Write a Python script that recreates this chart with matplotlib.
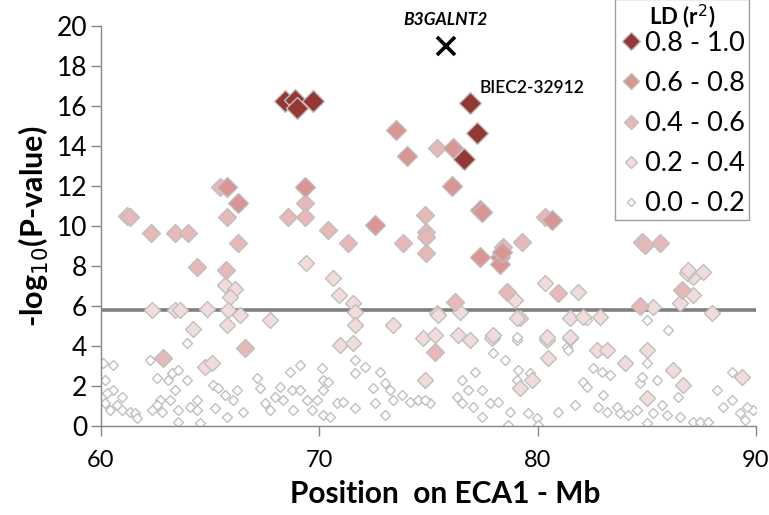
import matplotlib
matplotlib.use("Agg")
import matplotlib.pyplot as plt
from matplotlib.lines import Line2D

plt.rcParams['font.family'] = ['Lato', 'DejaVu Sans']

# Position on ECA1 (Mb) and -log10(P) for each LD (r2) class
pos_r08 = [68.43, 68.9, 69.71, 69.0, 76.9, 77.22, 76.63]
logp_r08 = [16.25, 16.3, 16.25, 15.9, 16.15, 14.65, 13.35]

pos_r06 = [65.77, 66.28, 69.34, 73.51, 74.0, 76.12, 76.08, 72.55, 77.36, 77.45,
           80.66, 77.36, 78.28, 78.28, 78.37]
logp_r06 = [11.95, 11.15, 11.95, 14.8, 13.5, 13.9, 12.0, 10.05, 10.8, 10.7,
            10.3, 8.45, 8.45, 8.1, 8.7]

pos_r04 = [61.19, 61.33, 62.29, 63.39, 63.98, 64.4, 65.73, 65.77, 66.28, 65.45,
           69.35, 69.35, 68.57, 70.4, 71.31, 73.83, 74.84, 74.89, 74.89, 74.89,
           75.39, 78.4, 79.29, 80.34, 84.78, 84.92, 85.61, 76.22, 78.6, 80.93,
           86.61, 84.69, 62.84, 66.6, 75.3]
logp_r04 = [10.5, 10.45, 9.65, 9.65, 9.65, 7.95, 7.8, 10.45, 9.15, 11.95,
            11.15, 10.45, 10.45, 9.8, 9.15, 9.15, 10.55, 9.7, 9.45, 8.65,
            13.9, 8.95, 9.2, 10.45, 9.2, 9.05, 9.15, 6.2, 6.7, 6.65,
            6.8, 6.0, 3.4, 3.9, 3.7]

pos_r02 = [69.39, 70.63, 70.9, 71.54, 71.64, 71.64, 76.45, 78.97, 80.34, 75.39,
           73.38, 79.2, 65.68, 66.14, 65.9, 62.34, 63.39, 63.62, 64.86, 65.82,
           66.37, 65.77, 64.2, 67.74, 64.76, 65.08, 70.95, 71.54, 74.75, 74.84,
           75.44, 79.06, 81.48, 82.08, 82.86, 85.29, 86.52, 87.99, 75.3, 76.35,
           76.9, 77.91, 80.43, 80.48, 81.48, 82.72, 83.18, 84.0, 85.01, 86.2,
           86.66, 89.36, 79.74, 79.19, 85.01, 81.85, 87.12, 87.12, 86.84, 87.58,
           86.89, 77.96, 81.48, 80.43]
logp_r02 = [8.15, 7.4, 6.55, 6.15, 5.7, 5.05, 5.7, 6.3, 7.15, 5.65,
            5.05, 5.4, 7.05, 6.85, 6.45, 5.8, 5.8, 5.8, 5.85, 5.8,
            5.55, 5.05, 4.85, 5.3, 2.95, 3.15, 4.05, 4.15, 4.4, 2.3,
            5.55, 5.4, 5.4, 5.45, 5.45, 5.95, 6.15, 5.65, 4.55, 4.55,
            4.3, 4.4, 4.3, 3.4, 4.4, 3.8, 3.8, 3.15, 3.8, 2.8,
            2.05, 2.45, 2.3, 1.9, 1.4, 6.7, 6.55, 7.45, 7.65, 7.7,
            7.8, 4.55, 4.45, 4.45]

pos_r00 = [60.09, 60.55, 60.18, 60.55, 60.27, 60.96, 60.18, 60.73, 60.41, 60.96,
           61.33, 61.56, 61.65, 62.24, 62.57, 63.07, 63.25, 63.53, 63.94, 63.39,
           62.7, 62.57, 63.16, 62.34, 62.8, 63.53, 63.53, 64.08, 64.4, 64.4,
           64.54, 63.94, 65.22, 65.13, 65.36, 65.68, 66.23, 66.05, 65.77, 66.51,
           67.15, 67.28, 67.51, 67.74, 67.97, 68.2, 68.34, 68.66, 69.12, 68.75,
           69.12, 68.8, 69.44, 69.67, 69.9, 70.12, 70.17, 70.17, 70.4, 70.17,
           70.49, 70.81, 71.08, 71.64, 71.64, 71.64, 72.09, 72.46, 72.55, 72.78,
           73.01, 73.01, 73.24, 73.38, 73.79, 74.15, 74.52, 75.07, 74.84, 76.54,
           76.81, 77.13, 76.31, 76.54, 77.04, 77.45, 77.45, 77.82, 78.19, 77.96,
           78.51, 79.06, 79.1, 79.65, 79.06, 78.74, 79.56, 79.97, 78.65, 80.02,
           80.93, 81.35, 81.71, 82.08, 82.26, 82.54, 82.95, 83.0, 82.77, 83.32,
           83.18, 83.64, 83.78, 84.14, 84.55, 84.69, 84.78, 85.01, 85.01, 85.29,
           85.47, 85.7, 85.93, 86.43, 86.52, 87.12, 87.44, 87.81, 88.22, 88.49,
           88.91, 88.91, 89.27, 89.5, 89.87, 89.59, 85.97, 85.01, 82.26, 81.39,
           79.06]
logp_r00 = [3.15, 3.05, 2.3, 1.8, 1.65, 1.45, 1.15, 1.05, 0.8, 0.8,
            0.7, 0.65, 0.4, 3.3, 2.4, 2.3, 2.65, 2.8, 2.3, 1.8,
            1.3, 1.05, 1.3, 0.8, 0.7, 0.8, 0.2, 0.95, 1.3, 0.8,
            0.15, 4.15, 0.9, 2.05, 1.9, 1.55, 1.8, 1.3, 0.45, 0.7,
            2.4, 1.9, 1.15, 0.8, 1.45, 1.95, 1.3, 2.7, 3.05, 1.8,
            1.8, 0.8, 1.3, 0.8, 1.3, 2.9, 2.3, 1.8, 2.2, 0.55,
            0.45, 1.15, 1.2, 0.9, 2.65, 3.3, 2.95, 1.9, 1.15, 2.7,
            2.15, 0.55, 1.8, 1.3, 1.55, 1.2, 1.3, 1.15, 1.3, 2.3,
            1.8, 2.7, 1.45, 1.15, 0.95, 1.8, 0.45, 1.15, 1.2, 3.65,
            3.3, 4.3, 2.8, 2.65, 2.3, 0.7, 0.65, 0.4, 0.05, 0.05,
            0.7, 3.95, 1.05, 2.2, 1.95, 2.9, 2.7, 1.55, 0.95, 2.55,
            0.7, 0.95, 0.65, 0.55, 0.8, 2.15, 2.45, 3.15, 0.15, 0.65,
            2.3, 1.05, 0.55, 1.45, 0.45, 0.2, 0.2, 0.2, 1.8, 0.95,
            1.3, 2.7, 0.65, 0.3, 0.8, 0.95, 4.8, 5.3, 5.3, 3.8,
            4.45]

ld_labels = ['0.8 - 1.0', '0.6 - 0.8', '0.4 - 0.6', '0.2 - 0.4', '0.0 - 0.2']
threshold = 5.8
gene_pos, gene_logp = 75.8, 19.0

groups = [
    (pos_r00, logp_r00, 'white', 5.5),
    (pos_r02, logp_r02, '#F2DCDB', 7.8),
    (pos_r04, logp_r04, '#E6B9B8', 9.0),
    (pos_r06, logp_r06, '#D99694', 10.2),
    (pos_r08, logp_r08, '#953735', 11.5),
]

fig = plt.figure(figsize=(7.69, 5.15), dpi=100)
ax = fig.add_axes([0.1313, 0.1728, 0.8517, 0.7767])

for xs, ys, col, ms in groups:
    ax.plot(xs, ys, linestyle='none', marker='D', markersize=ms,
            markerfacecolor=col, markeredgecolor='#BFBFBF', markeredgewidth=1.0)

ax.axhline(threshold, color='#808080', linewidth=2.6, zorder=1)

ax.plot([gene_pos], [gene_logp], marker='x', color='black', markersize=13,
        markeredgewidth=2.6, linestyle='none', clip_on=False)
ax.text(gene_pos, 20.3, 'B3GALNT2', ha='center', va='center', fontsize=12.5,
        fontweight='bold', fontstyle='italic')
ax.text(77.36, 16.9, 'BIEC2-32912', ha='left', va='center', fontsize=12.5,
        fontweight='semibold')

ax.set_xlim(60, 90)
ax.set_ylim(0, 20)
ax.set_xticks([60, 70, 80, 90])
ax.set_yticks(range(0, 21, 2))
for s in ['top', 'right']:
    ax.spines[s].set_visible(False)
for s in ['left', 'bottom']:
    ax.spines[s].set_color('#868686')
    ax.spines[s].set_linewidth(1.0)
ax.tick_params(axis='both', colors='#868686', labelcolor='black',
               length=7, width=1.0, direction='out')
ax.tick_params(axis='y', pad=3, labelsize=19)
ax.tick_params(axis='x', pad=10, labelsize=17)

ax.set_xlabel('Position  on ECA1 - Mb', fontsize=21.5, fontweight='bold', labelpad=7)
ax.xaxis.label.set_x(0.525)
ax.set_ylabel('-log$_{10}$(P-value)', fontsize=22, fontweight='bold', labelpad=4)

# legend (order: highest LD first)
handles = []
for (xs, ys, col, ms), lab in zip(groups[::-1], ld_labels):
    handles.append(Line2D([], [], linestyle='none', marker='D', markersize=ms * 0.8,
                          markerfacecolor=col, markeredgecolor='#BFBFBF',
                          markeredgewidth=1.0, label=lab))
leg = ax.legend(handles=handles, title='LD (r$^2$)', loc='lower left',
                bbox_to_anchor=(0.785, 0.516), fontsize=19.5, title_fontsize=16,
                frameon=True, fancybox=False, labelspacing=0.56,
                handletextpad=0.1, handlelength=0.9, borderpad=0.12,
                borderaxespad=0)
leg._legend_box.sep = 0  # title sits close to the first entry
leg.get_title().set_fontweight('bold')
leg.get_frame().set_edgecolor('#868686')
leg.get_frame().set_linewidth(1.0)

fig.savefig('out.png', dpi=100)
